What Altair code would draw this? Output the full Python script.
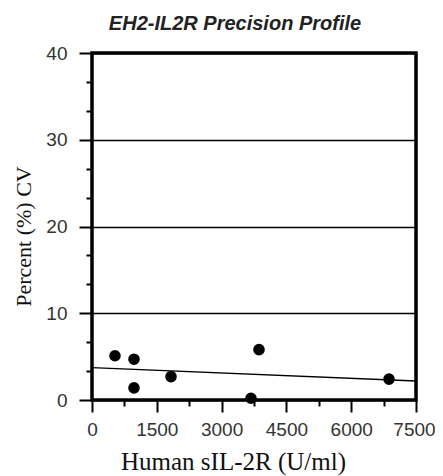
import altair as alt
import pandas as pd

conc = [532, 972, 972, 1829, 3680, 3866, 6875]
cv = [5.1, 4.7, 1.4, 2.7, 0.2, 5.8, 2.4]

x_ticks = [i * 750 for i in range(11)]
y_ticks = [i * 10 / 3 for i in range(13)]

df = pd.DataFrame({"conc": conc, "cv": cv})

major_y = "abs(datum.value - round(datum.value / 10) * 10) < 0.01"
major_x = "datum.value % 1500 == 0"

xenc = alt.X(
    "conc:Q",
    scale=alt.Scale(domain=[0, 7500], nice=False),
    axis=alt.Axis(
        values=x_ticks,
        title="Human sIL-2R (U/ml)",
        format="d",
        labelExpr="datum.value % 1500 == 0 ? datum.label : ''",
        labelOverlap=False,
        labelFlush=False,
        labelOffset={"condition": {"test": "datum.value == 7500", "value": -2}, "value": 0},
        grid=False,
        domain=False,
        tickColor="black",
        tickWidth=2,
        tickSize={"condition": {"test": major_x, "value": 12}, "value": 6},
        labelFont="Liberation Sans",
        labelFontSize=19,
        labelColor="#333",
        labelPadding=8,
        titleFont="Liberation Serif",
        titleFontSize=25,
        titleFontWeight="normal",
        titleColor="#111",
        titlePadding=10,
        titleX=141,
    ),
)
yenc = alt.Y(
    "cv:Q",
    scale=alt.Scale(domain=[0, 40], nice=False),
    axis=alt.Axis(
        values=y_ticks,
        title="Percent (%) CV",
        labelExpr="abs(datum.value - round(datum.value / 10) * 10) < 0.01 ? format(datum.value, 'd') : ''",
        labelOverlap=False,
        labelFlush=False,
        grid=True,
        gridColor="black",
        gridWidth=1.6,
        gridOpacity={"condition": {"test": major_y, "value": 1}, "value": 0},
        domain=False,
        tickColor="black",
        tickWidth=2,
        tickSize={"condition": {"test": major_y, "value": 13}, "value": 6},
        labelFont="Liberation Sans",
        labelFontSize=19,
        labelColor="#333",
        labelPadding=12,
        titleFont="Liberation Serif",
        titleFontSize=22,
        titleFontWeight="normal",
        titleColor="#111",
        titlePadding=10,
        titleY=183,
    ),
)

base = alt.Chart(df)

points = base.mark_circle(size=135, color="black", opacity=1).encode(x=xenc, y=yenc)

line = (
    base.transform_regression("conc", "cv", extent=[0, 7500])
    .mark_line(color="black", strokeWidth=1.3)
    .encode(x=xenc, y=yenc)
)

chart = (
    alt.layer(line, points)
    .properties(
        width=324,
        height=347,
        background="white",
        title=alt.TitleParams(
            "EH2-IL2R Precision Profile",
            font="Liberation Sans",
            fontSize=20,
            fontStyle="italic",
            fontWeight="bold",
            color="#222",
            anchor="middle",
            dx=-19,
            offset=10,
        ),
        autosize=alt.AutoSizeParams(type="none"),
        padding={"left": 84, "top": 45, "right": 19, "bottom": 76},
    )
    .configure_view(stroke="black", strokeWidth=3.5)
)

chart.save("out.html", embed_options={"renderer": "svg", "actions": False})
